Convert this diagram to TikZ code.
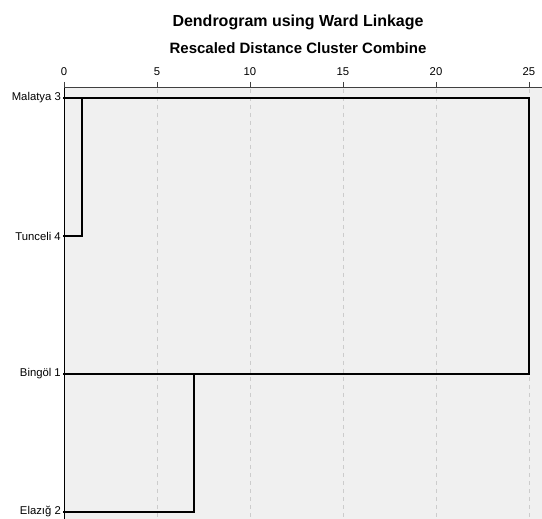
\documentclass[tikz,border=0pt]{standalone}
\usepackage{fontspec}
\setmainfont{Liberation Sans}
\begin{document}
\begin{tikzpicture}[x=1pt,y=-1pt,
  title/.style={font=\fontsize{16}{18}\selectfont\bfseries, anchor=center},
  subtitle/.style={font=\fontsize{15}{18}\selectfont\bfseries, anchor=center},
  leaflabel/.style={font=\fontsize{11.3}{13}\selectfont, anchor=east, inner sep=0pt},
  ticklabel/.style={font=\fontsize{11.3}{13}\selectfont, anchor=center, inner sep=0pt},
  grid/.style={draw=black!20, dashed, dash pattern=on 4pt off 4pt, line width=0.8pt},
  link/.style={draw=black, line width=1.4pt, line cap=rect},
  axisline/.style={draw=black!75, line width=1pt}]
\useasboundingbox (0,0) rectangle (542,519);
\fill[black!6] (64,88) rectangle (542,519);
% titles
\node[title] (t1) at (298,22) {Dendrogram using Ward Linkage};
\node[subtitle] (t2) at (298,48) {Rescaled Distance Cluster Combine};
% grid and ticks
\foreach \v/\xx in {0/64,5/157,10/250,15/343,20/436,25/529}{
  \node[ticklabel] (tk\v) at (\xx,72) {\v};
  \draw[axisline] (\xx,82) -- (\xx,88);
}
\foreach \xx in {157,250,343,436,529}{
  \draw[grid] (\xx,89) -- (\xx,519);
}
\draw[axisline] (64,88) -- (542,88);
\draw[black, line width=1pt] (64,88) -- (64,519);
% leaves
\coordinate (malatya) at (64,98);
\coordinate (tunceli) at (64,236);
\coordinate (bingol) at (64,374);
\coordinate (elazig) at (64,512);
\node[leaflabel] (lm) at (61,98) {Malatya 3};
\node[leaflabel] (lt) at (61,236) {Tunceli 4};
\node[leaflabel] (lb) at (61,374) {Bingöl 1};
\node[leaflabel] (le) at (61,512) {Elazığ 2};
% merges
\coordinate (m1a) at (82,98);
\coordinate (m1b) at (82,236);
\coordinate (m2a) at (194,374);
\coordinate (m2b) at (194,512);
\coordinate (m3a) at (529,98);
\coordinate (m3b) at (529,374);
\draw[link] (malatya) -- (m1a) -- (m1b) -- (tunceli);
\draw[link] (bingol) -- (m2a) (m2a) -- (m2b) -- (elazig);
\draw[link] (m1a) -- (m3a) -- (m3b) -- (m2a);
\end{tikzpicture}
\end{document}
